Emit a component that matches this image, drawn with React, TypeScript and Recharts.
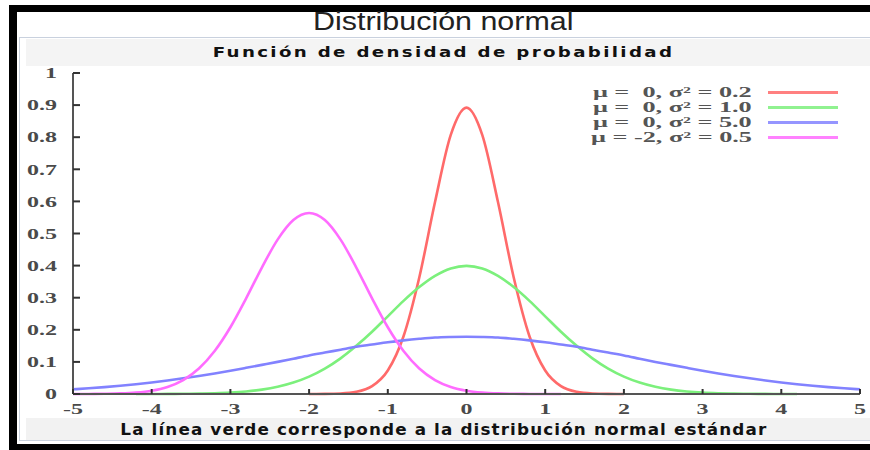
import React from 'react';
import { LineChart, Line, XAxis, YAxis } from 'recharts';

// x positions of the sampled points (step 0.2)
const xValues = [
  -5, -4.8, -4.6, -4.4, -4.2, -4, -3.8, -3.6, -3.4, -3.2, -3, -2.8, -2.6, -2.4, -2.2, -2,
  -1.8, -1.6, -1.4, -1.2, -1, -0.8, -0.6, -0.4, -0.2, 0, 0.2, 0.4, 0.6, 0.8, 1, 1.2, 1.4,
  1.6, 1.8, 2, 2.2, 2.4, 2.6, 2.8, 3, 3.2, 3.4, 3.6, 3.8, 4, 4.2, 4.4, 4.6, 4.8, 5,
];

// mu = 0, sigma^2 = 0.2
const redCurve = [
  null, null, null, null, null, null, null, null, null, null, null, null, null, null, null,
  0, 0.0003, 0.0015, 0.0066, 0.0244, 0.0732, 0.18, 0.363, 0.598, 0.807, 0.892,
  0.807, 0.598, 0.363, 0.18, 0.0732, 0.0244, 0.0066, 0.0015, 0.0003, 0,
  null, null, null, null, null, null, null, null, null, null, null, null, null, null, null,
];

// mu = 0, sigma^2 = 1.0
const greenCurve = [
  null, null, null, null,
  0, 0.0001, 0.0003, 0.0006, 0.0012, 0.0024, 0.0044, 0.0079, 0.0136, 0.0224, 0.0355, 0.054,
  0.079, 0.111, 0.15, 0.194, 0.242, 0.29, 0.333, 0.368, 0.391, 0.399,
  0.391, 0.368, 0.333, 0.29, 0.242, 0.194, 0.15, 0.111, 0.079, 0.054, 0.0355, 0.0224,
  0.0136, 0.0079, 0.0044, 0.0024, 0.0012, 0.0006, 0.0003, 0.0001, 0,
  null, null, null, null,
];

// mu = 0, sigma^2 = 5.0
const blueCurve = [
  0.0146, 0.0178, 0.0215, 0.0257, 0.0306, 0.036, 0.0421, 0.0488, 0.0561, 0.0641, 0.0725,
  0.0815, 0.0907, 0.1, 0.11, 0.12, 0.129, 0.138, 0.147, 0.154, 0.161, 0.167, 0.172, 0.176,
  0.1777, 0.1784, 0.1777, 0.176, 0.172, 0.167, 0.161, 0.154, 0.147, 0.138, 0.129, 0.12,
  0.11, 0.1, 0.0907, 0.0815, 0.0725, 0.0641, 0.0561, 0.0488, 0.0421, 0.036, 0.0306,
  0.0257, 0.0215, 0.0178, 0.0146,
];

// mu = -2, sigma^2 = 0.5
const magentaCurve = [
  0.0001, 0.0002, 0.0007, 0.0018, 0.0045, 0.0103, 0.0221, 0.0436, 0.0795, 0.134, 0.208,
  0.298, 0.394, 0.481, 0.542, 0.564, 0.542, 0.481, 0.394, 0.298, 0.208, 0.134, 0.0795,
  0.0436, 0.0221, 0.0103, 0.0045, 0.0018, 0.0007, 0.0002, 0.0001, 0,
  null, null, null, null, null, null, null, null, null, null, null, null, null, null, null,
  null, null, null, null,
];

const seriesKeys = ['s1', 's2', 's3', 's4'];
const seriesNames = [
  'μ =  0, σ² = 0.2',
  'μ =  0, σ² = 1.0',
  'μ =  0, σ² = 5.0',
  'μ = -2, σ² = 0.5',
];
const seriesColors = ['#ff6a6a', '#7cf07c', '#8282ff', '#ff6cff'];

const xTicks = [-5, -4, -3, -2, -1, 0, 1, 2, 3, 4, 5];
const yTicks = [0, 0.1, 0.2, 0.3, 0.4, 0.5, 0.6, 0.7, 0.8, 0.9, 1];

const data = xValues.map((x, i) => ({
  x,
  s1: redCurve[i],
  s2: greenCurve[i],
  s3: blueCurve[i],
  s4: magentaCurve[i],
}));

const AXIS = '#555';
const LABEL = '#4a4a4a';
const TICK_FONT = '"Liberation Serif", "DejaVu Serif", serif';
const SANS = '"DejaVu Sans", Verdana, sans-serif';
const STRETCH = 1.6; // the reference glyphs are stretched sideways
const MARGIN_X = 9;
const MARGIN_Y = 16;

const BottomTick = (props: any) => {
  const { x, y, payload } = props;
  return (
    <g>
      <line x1={x} x2={x} y1={y - MARGIN_X} y2={y - MARGIN_X - 5} stroke="#333" strokeWidth={2} />
      <text transform={`translate(${x},${y}) scale(${STRETCH},1)`} dy="0.71em" textAnchor="middle"
        fill={LABEL} fontFamily={TICK_FONT} fontWeight="bold" fontSize={15}>
        {payload.value}
      </text>
    </g>
  );
};

const LeftTick = (props: any) => {
  const { x, y, payload } = props;
  return (
    <g>
      <line x1={x + MARGIN_Y} x2={x + MARGIN_Y + 7} y1={y} y2={y} stroke="#333" strokeWidth={2} />
      <text transform={`translate(${x},${y}) scale(${STRETCH},1)`} dy="0.35em" textAnchor="end"
        fill={LABEL} fontFamily={TICK_FONT} fontWeight="bold" fontSize={15}>
        {payload.value}
      </text>
    </g>
  );
};

const TopTick = (props: any) => {
  const { x, y } = props;
  return <line x1={x} x2={x} y1={y} y2={y + 5} stroke="#333" strokeWidth={2} />;
};

const RightTick = (props: any) => {
  const { x, y } = props;
  return <line x1={x - 7} x2={x} y1={y} y2={y} stroke="#333" strokeWidth={2} />;
};

function LegendBox() {
  return (
    <div style={{ position: 'absolute', left: 540, top: 85, width: 300 }}>
      {seriesNames.map((name, i) => (
        <div key={name} style={{ display: 'flex', alignItems: 'center', height: 15 }}>
          <div style={{ width: 212, height: 15, position: 'relative' }}>
            <span style={{
              position: 'absolute', right: 0, top: 0, transform: 'scaleX(1.75)',
              transformOrigin: 'right center', fontFamily: TICK_FONT, fontWeight: 'bold',
              fontSize: 15, color: '#555', whiteSpace: 'pre', lineHeight: '15px',
            }}>
              {name}
            </span>
          </div>
          <span style={{ width: 70, height: 3, marginLeft: 16, background: seriesColors[i], opacity: 0.85 }} />
        </div>
      ))}
    </div>
  );
}

export default function App() {
  return (
    <div style={{
      position: 'absolute', left: 0, top: 0, width: 870, height: 450,
      background: '#fff', overflow: 'hidden',
    }}>
      {/* black frame */}
      <div style={{ position: 'absolute', left: 9, top: 5, width: 861, height: 7, background: '#000' }} />
      <div style={{ position: 'absolute', left: 9, top: 5, width: 8, height: 445, background: '#000' }} />
      <div style={{ position: 'absolute', left: 9, top: 444, width: 861, height: 6, background: '#000' }} />

      <div style={{
        position: 'absolute', left: 17, top: 6, width: 853, textAlign: 'center', lineHeight: '30px',
        fontFamily: '"Liberation Sans", Arial, sans-serif', fontSize: 26, color: '#222',
      }}>
        <span style={{ display: 'inline-block', transform: 'scaleX(1.17)' }}>Distribución normal</span>
      </div>

      {/* panel */}
      <div style={{
        position: 'absolute', left: 19, top: 37, width: 851, height: 404,
        border: '1px solid #c9d1de', borderRight: 'none', background: '#fff', boxSizing: 'border-box',
      }} />
      <div style={{ position: 'absolute', left: 26, top: 39, width: 844, height: 27, background: '#f4f4f4' }} />
      <div style={{ position: 'absolute', left: 26, top: 418, width: 844, height: 22, background: '#f2f2f2' }} />

      <div style={{
        position: 'absolute', left: 17, top: 43, width: 853, textAlign: 'center', lineHeight: '18px',
        fontFamily: SANS, fontWeight: 'bold', fontSize: 14, color: '#111',
      }}>
        <span style={{ display: 'inline-block', letterSpacing: 1.8, transform: 'scaleX(1.3)' }}>
          Función de densidad de probabilidad
        </span>
      </div>
      <div style={{
        position: 'absolute', left: 17, top: 420, width: 853, textAlign: 'center', lineHeight: '20px',
        fontFamily: SANS, fontWeight: 'bold', fontSize: 15, color: '#111',
      }}>
        <span style={{ display: 'inline-block', letterSpacing: 1, transform: 'scaleX(1.12)' }}>
          La línea verde corresponde a la distribución normal estándar
        </span>
      </div>

      <div style={{ position: 'absolute', left: 0, top: 0 }}>
        <LineChart width={870} height={450} data={data}
          margin={{ top: 73, right: 10, bottom: 26, left: 13 }}>
          <XAxis dataKey="x" type="number" domain={[-5, 5]} ticks={xTicks} interval={0}
            tickSize={0} tickMargin={MARGIN_X} height={30} tick={<BottomTick />}
            axisLine={{ stroke: AXIS, strokeWidth: 2 }} tickLine={false} />
          <XAxis xAxisId="top" orientation="top" dataKey="x" type="number" domain={[-5, 5]}
            ticks={xTicks} interval={0} tickSize={0} tickMargin={0} height={0} tick={<TopTick />}
            axisLine={{ stroke: AXIS, strokeWidth: 2 }} tickLine={false} />
          <YAxis type="number" domain={[0, 1]} ticks={yTicks} interval={0} width={60}
            tickSize={0} tickMargin={MARGIN_Y} tick={<LeftTick />}
            axisLine={{ stroke: AXIS, strokeWidth: 2 }} tickLine={false} />
          <YAxis yAxisId="right" orientation="right" type="number" domain={[0, 1]} ticks={yTicks}
            interval={0} width={0} tickSize={0} tickMargin={0} tick={<RightTick />}
            axisLine={{ stroke: AXIS, strokeWidth: 2 }} tickLine={false} />
          {seriesKeys.map((k, i) => (
            <Line key={k} dataKey={k} name={seriesNames[i]} type="monotone" stroke={seriesColors[i]}
              strokeWidth={2.6} dot={false} activeDot={false} isAnimationActive={false} />
          ))}
        </LineChart>
      </div>
      <LegendBox />
    </div>
  );
}
